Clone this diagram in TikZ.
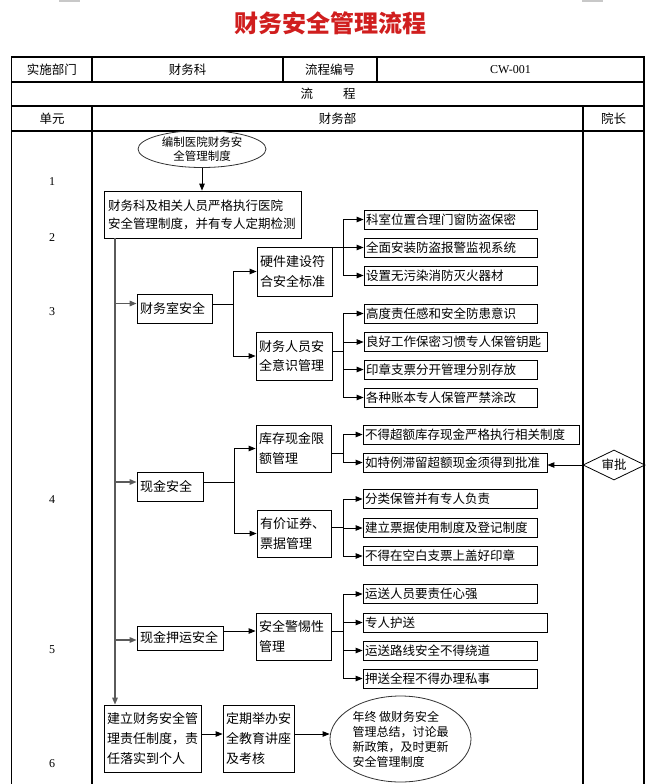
\documentclass[tikz,border=0pt]{standalone}
\usepackage{fontspec}
\setmainfont{Liberation Serif}
\newfontfamily\cjk{Noto Sans CJK SC}
\usetikzlibrary{arrows.meta, shapes.geometric}
\definecolor{titlered}{HTML}{D01E1E}
\definecolor{trunkgray}{HTML}{5A5A5A}
\definecolor{markgray}{HTML}{C8C8C8}

\begin{document}
\begin{tikzpicture}[x=1pt, y=-1pt,
    every node/.style={font=\cjk\fontsize{12.5}{15}\selectfont},
    box/.style={draw, line width=0.8pt, inner xsep=3pt, inner ysep=0pt,
      text width=#1, align=left, font=\cjk\fontsize{13}{19.5}\selectfont},
    leaf/.style={draw, line width=0.8pt, inner xsep=2pt, inner ysep=0pt,
      minimum height=19pt, text width=#1, align=left},
    oval/.style={draw=black!80, ellipse, line width=0.8pt, inner sep=0pt},
    arr/.style={-{Triangle[length=7pt, width=5.5pt]}, line width=0.9pt},
    trunk/.style={arr, trunkgray, line width=1.5pt},
    grid/.style={line width=1.1pt},
    num/.style={font=\rmfamily\fontsize{12}{12}\selectfont}]
  \useasboundingbox (0,0) rectangle (658,784);

  % page marks and title
  \draw[markgray, line width=1.5pt] (59,0.8) -- (80,0.8) (582,0.8) -- (603,0.8);
  \node[font=\cjk\bfseries\fontsize{24}{24}\selectfont, text=titlered] (title) at (330,23) {财务安全管理流程};

  % table
  \draw[grid] (11.7,784) -- (11.7,57) -- (644,57) -- (644,784);
  \foreach \y in {82,106,131} \draw[grid] (11.7,\y) -- (644,\y);
  \foreach \x in {92,283,377} \draw[grid] (\x,57) -- (\x,82);
  \draw[grid] (92,106) -- (92,784);
  \draw[grid] (583,106) -- (583,784);

  \node (dept) at (52,69.5) {实施部门};
  \node (deptv) at (187.5,69.5) {财务科};
  \node (no) at (330,69.5) {流程编号};
  \node[num] (nov) at (510.5,69.5) {CW-001};
  \node (flow) at (328,94) {流\hspace{30pt}程};
  \node (unit) at (52,118.5) {单元};
  \node (fin) at (337.5,118.5) {财务部};
  \node (dean) at (613.5,118.5) {院长};
  \foreach \n/\y in {1/182,2/238,3/312,4/500,5/650,6/764}
    \node[num] (u\n) at (52,\y) {\n};

  % flow boxes
  \node[oval, minimum width=128pt, minimum height=37pt,
    label={[font=\cjk\fontsize{11.5}{14.5}\selectfont, align=center]center:{编制医院财务安\\全管理制度}}] (plan) at (202,149) {};
  \node[box=189pt, minimum height=47pt, inner xsep=4pt, font=\cjk\fontsize{12.5}{18}\selectfont] (exec) at (202.5,214.5)
    {财务科及相关人员严格执行医院\\安全管理制度，并有专人定期检测};

  \node[box=69pt, minimum height=29pt] (room) at (174.5,308.5) {财务室安全};
  \node[box=69pt, minimum height=49pt] (hw) at (294.5,271.5) {硬件建设符\\合安全标准};
  \node[box=70pt, minimum height=48pt] (pm) at (294,356) {财务人员安\\全意识管理};

  \node[box=60pt, minimum height=29pt] (cash) at (170,486.5) {现金安全};
  \node[box=69pt, minimum height=47pt] (lim) at (293.5,448.5) {库存现金限\\额管理};
  \node[box=68pt, minimum height=47pt] (bill) at (294,533.5) {有价证券、\\票据管理};

  \node[box=80pt, minimum height=24pt] (esc) at (180,638) {现金押运安全};
  \node[box=69pt, minimum height=47pt] (vig) at (293.5,636.5) {安全警惕性\\管理};

  \node[box=91pt, minimum height=67pt, font=\cjk\fontsize{13}{20}\selectfont] (duty) at (152.5,738.5)
    {建立财务安全管\\理责任制度，责\\任落实到个人};
  \node[box=65pt, minimum height=67pt, font=\cjk\fontsize{13}{20}\selectfont] (edu) at (258.5,738.5)
    {定期举办安\\全教育讲座\\及考核};
  \node[oval, minimum width=141pt, minimum height=86pt,
    label={[font=\cjk\fontsize{12}{15}\selectfont, align=left]center:{年终 做财务安全\\管理总结，讨论最\\新政策，及时更新\\安全管理制度}}] (summ) at (400.5,739) {};

  % leaves
  \node[leaf=169pt] (hw1) at (450.5,219.5) {科室位置合理门窗防盗保密};
  \node[leaf=169pt] (hw2) at (450.5,247.5) {全面安装防盗报警监视系统};
  \node[leaf=169pt] (hw3) at (450.5,275.5) {设置无污染消防灭火器材};
  \node[leaf=169pt] (pm1) at (450.5,313.5) {高度责任感和安全防患意识};
  \node[leaf=179pt] (pm2) at (455.5,342) {良好工作保密习惯专人保管钥匙};
  \node[leaf=169pt] (pm3) at (450.5,369.5) {印章支票分开管理分别存放};
  \node[leaf=169pt] (pm4) at (450.5,397.5) {各种账本专人保管严禁涂改};
  \node[leaf=212pt] (lim1) at (471,434.5) {不得超额库存现金严格执行相关制度};
  \node[leaf=180pt] (lim2) at (455,462.5) {如特例滞留超额现金须得到批准};
  \node[leaf=170pt] (bill1) at (450,499) {分类保管并有专人负责};
  \node[leaf=170pt] (bill2) at (450,528) {建立票据使用制度及登记制度};
  \node[leaf=170pt] (bill3) at (450,556) {不得在空白支票上盖好印章};
  \node[leaf=170pt] (vig1) at (450,594) {运送人员要责任心强};
  \node[leaf=180pt] (vig2) at (455,622.5) {专人护送};
  \node[leaf=170pt] (vig3) at (450,650.5) {运送路线安全不得绕道};
  \node[leaf=170pt] (vig4) at (450,678.5) {押送全程不得办理私事};

  \node[draw, diamond, aspect=2, minimum width=62pt, minimum height=30pt,
    inner sep=0pt, line width=0.8pt] (appr) at (614,465) {审批};

  % connectors
  \draw[arr] (plan.south) -- (plan.south |- exec.north);
  \coordinate (tx) at (115,0);
  \draw[trunk] (exec.south -| tx) -- (duty.north -| tx);
  \foreach \n/\dy in {room/5, cash/4.5, esc/-2}
    \draw[trunk] ([yshift=\dy pt]\n.west -| tx) -- ([yshift=\dy pt]\n.west);

  \foreach \p/\bx/\dy/\kids in {room/233/4.5/{hw,pm}, cash/234/4.5/{lim,bill},
      hw/343/24/{hw1,hw2,hw3}, pm/343/5/{pm1,pm2,pm3,pm4}, lim/343/-4.5/{lim1,lim2},
      bill/343/6.5/{bill1,bill2,bill3}, vig/343/5.5/{vig1,vig2,vig3,vig4}}
  {
    \coordinate (j) at (\bx,0);
    \draw[line width=0.9pt] ([yshift=\dy pt]\p.east) -- ([yshift=\dy pt]\p.east -| j);
    \foreach \c in \kids
      \draw[arr] ([yshift=\dy pt]\p.east -| j) |- (\c.west);
  }

  \draw[arr] ([yshift=7pt]esc.east) -- ([yshift=7pt]esc.east -| vig.west);
  \draw[arr] ([yshift=4.5pt]duty.east) -- ([yshift=4.5pt]duty.east -| edu.west);
  \draw[arr] ([yshift=4.5pt]edu.east) -- ([yshift=4.5pt]edu.east -| summ.west);
  \draw[arr] (appr.west) -- (appr.west -| lim2.east);
\end{tikzpicture}
\end{document}
